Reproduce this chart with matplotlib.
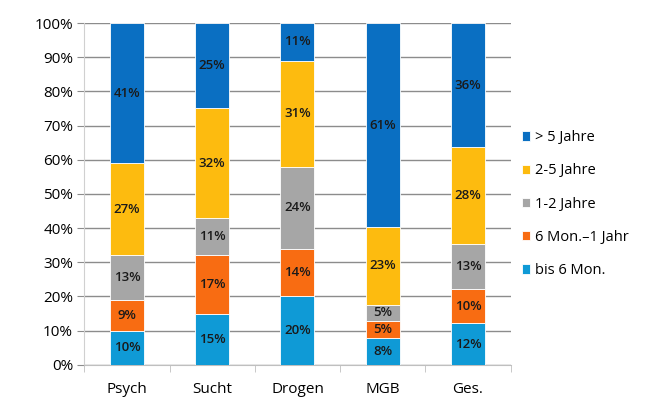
import numpy as np
import matplotlib.pyplot as plt
from matplotlib.ticker import PercentFormatter

plt.rcParams["font.family"] = ["Open Sans", "DejaVu Sans"]

categories = ["Psych", "Sucht", "Drogen", "MGB", "Ges."]
series_names = ["bis 6 Mon.", "6 Mon.\u20131 Jahr", "1-2 Jahre", "2-5 Jahre", "> 5 Jahre"]
bis_6_mon = [10, 15, 20, 8, 12]
mon6_1_jahr = [9, 17, 14, 5, 10]
jahre_1_2 = [13, 11, 24, 5, 13]
jahre_2_5 = [27, 32, 31, 23, 28]
ueber_5_jahre = [41, 25, 11, 61, 36]
colors = ["#0f9ad6", "#f86c12", "#a6a6a6", "#fdbb0f", "#0a6fc2"]

values = np.array([bis_6_mon, mon6_1_jahr, jahre_1_2, jahre_2_5, ueber_5_jahre], dtype=float)
# rounded shares do not always add up to 100, scale each column to fill the bar
shares = values / values.sum(axis=0) * 100

fig = plt.figure(figsize=(6.53, 3.97), dpi=100)
ax = fig.add_axes([0.129, 0.081, 0.653, 0.861])

x = np.arange(len(categories))
bottom = np.zeros(len(categories))
handles = []
for name, share, raw, color in zip(series_names, shares, values, colors):
    bars = ax.bar(x, share, width=0.4, bottom=bottom, color=color,
                  edgecolor="white", linewidth=0.6, label=name, zorder=3)
    handles.append(bars)
    for xi, b, s, r in zip(x, bottom, share, raw):
        ax.text(xi, b + s / 2, f"{int(r)}%", ha="center", va="center",
                fontsize=9.5, fontweight="semibold", color="#1a1a1a", zorder=4)
    bottom += share

ax.set_xlim(-0.5, len(categories) - 0.5)
ax.set_ylim(0, 100)
ax.set_yticks(np.arange(0, 101, 10))
ax.yaxis.set_major_formatter(PercentFormatter(decimals=0))
ax.yaxis.grid(True, color="#8c8c8c", linewidth=1.0, zorder=0)
ax.set_xticks(x)
ax.set_xticklabels(categories)
ax.set_xticks(np.arange(-0.5, len(categories), 1), minor=True)
ax.tick_params(axis="x", which="major", length=0, pad=12, labelsize=11)
ax.tick_params(axis="x", which="minor", length=5, color="#bfbfbf")
ax.tick_params(axis="y", length=5, color="#8c8c8c", labelsize=11, pad=3)
for lbl in ax.get_xticklabels() + ax.get_yticklabels():
    lbl.set_fontweight("medium")

for side in ["top", "right"]:
    ax.spines[side].set_visible(False)
ax.spines["left"].set_color("#d0d0d0")
ax.spines["bottom"].set_color("#bfbfbf")

leg = ax.legend(handles[::-1], series_names[::-1], loc="center left",
                bbox_to_anchor=(0.995, 0.47), frameon=False, fontsize=10.5,
                handlelength=0.6, handleheight=0.6, handletextpad=0.3,
                labelspacing=1.25)

fig.savefig("out.png", dpi=100)
